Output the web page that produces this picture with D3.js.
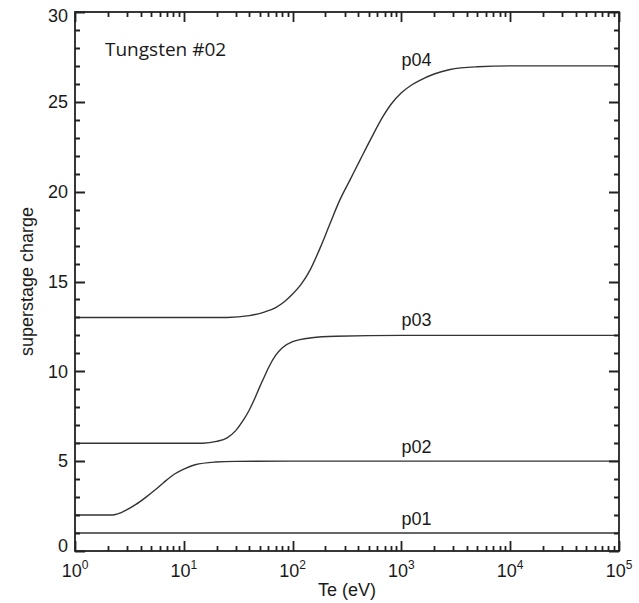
<!DOCTYPE html>
<html>
<head>
<meta charset="utf-8">
<script src="https://cdn.jsdelivr.net/npm/d3@7"></script>
<style>
  html, body { margin: 0; padding: 0; background: #fff; }
  svg { display: block; }
  text { font-family: "Liberation Sans", Arial, sans-serif; fill: #1a1a1a; }
</style>
</head>
<body>
<svg id="chart" width="639" height="603"></svg>
<script>
// Electron temperature grid (eV) and mean superstage charge for each superstage
const seriesNames = ["p01", "p02", "p03", "p04"];

const teP01 = [1, 1e5];
const zP01  = [1, 1];

const teP02 = [1, 2.2, 2.5, 3.0, 3.6, 4.5, 5.5, 6.5, 8.3, 10, 12.7, 19.4, 30, 100, 1e5];
const zP02  = [2, 2.0, 2.08, 2.3, 2.58, 3.0, 3.42, 3.8, 4.3, 4.56, 4.8, 4.95, 4.99, 5.0, 5.0];

const teP03 = [1, 15, 20, 25, 30, 35, 40, 45, 50, 55, 60, 70, 80, 100, 150, 250, 1000, 1e5];
const zP03  = [6, 6.0, 6.1, 6.3, 6.7, 7.25, 7.85, 8.5, 9.15, 9.7, 10.2, 10.9, 11.3, 11.65, 11.87, 11.95, 12.0, 12.0];

const teP04 = [1, 25, 40, 55, 70, 85, 100, 120, 145, 180, 220, 270, 340, 420, 520, 680, 800, 1000, 1250, 1480, 2000, 2800, 5000, 1e4, 1e5];
const zP04  = [13, 13.0, 13.1, 13.3, 13.55, 13.9, 14.3, 14.85, 15.65, 16.9, 18.2, 19.5, 20.7, 21.8, 22.9, 24.2, 24.85, 25.5, 25.95, 26.2, 26.55, 26.8, 26.95, 27.0, 27.0];

// Annotation anchors: labels sit at Te = 1 keV, at these charge levels
const labelTe = 1000;
const labelLevels = [1.45, 5.45, 12.5, 27.0];

const xDecades = [1, 10, 100, 1000, 1e4, 1e5];
const yTicks = [0, 5, 10, 15, 20, 25, 30];

const titleText = "Tungsten #02";
const xTitle = "Te (eV)";
const yTitle = "superstage charge";

const seriesTe = [teP01, teP02, teP03, teP04];
const seriesZ = [zP01, zP02, zP03, zP04];

const svg = d3.select("#chart");
const plotLeft = 75, plotRight = 619, plotTop = 12, plotBottom = 551;

const x = d3.scaleLog().domain([1, 1e5]).range([plotLeft, plotRight]);
const y = d3.scaleLinear().domain([0, 30]).range([plotBottom, plotTop]);

const axisColor = "#222";

// Minor ticks on the log axis: 2..9 within every decade
const minorX = [];
for (let d = 0; d < 5; d++) {
  for (let m = 2; m <= 9; m++) minorX.push(m * Math.pow(10, d));
}
const minorY = d3.range(0, 31, 1).filter(v => v % 5 !== 0);

const g = svg.append("g");

// Curves
const line = d3.line()
  .x(d => x(d[0]))
  .y(d => y(d[1]))
  .curve(d3.curveMonotoneX);

seriesNames.forEach((name, i) => {
  const pts = seriesTe[i].map((t, j) => [t, seriesZ[i][j]]);
  g.append("path")
    .datum(pts)
    .attr("d", line)
    .attr("fill", "none")
    .attr("stroke", "#333")
    .attr("stroke-width", 1.4);
  g.append("text")
    .attr("x", x(labelTe))
    .attr("y", y(labelLevels[i]))
    .attr("font-size", 18)
    .text(name);
});

// Inward tick marks on all four sides, built as one path
const xTickSet = xDecades.map(v => ({ v, len: 10 }))
  .concat(minorX.map(v => ({ v, len: 5 })));
const yTickSet = yTicks.map(v => ({ v, len: 10 }))
  .concat(minorY.map(v => ({ v, len: 5 })));

let tickD = "";
xTickSet.forEach(d => {
  const px = (Math.round(x(d.v)) + 0.5).toFixed(1);
  tickD += `M${px},${plotBottom}V${plotBottom - d.len}`;
  tickD += `M${px},${plotTop}V${plotTop + d.len}`;
});
yTickSet.forEach(d => {
  const py = (Math.round(y(d.v)) + 0.5).toFixed(1);
  tickD += `M${plotLeft},${py}H${plotLeft + d.len}`;
  tickD += `M${plotRight},${py}H${plotRight - d.len}`;
});
g.append("path")
  .attr("d", tickD)
  .attr("fill", "none")
  .style("stroke", axisColor)
  .style("stroke-width", "1.8px");

// Frame
g.append("rect")
  .attr("x", plotLeft).attr("y", plotTop)
  .attr("width", plotRight - plotLeft).attr("height", plotBottom - plotTop)
  .attr("fill", "none")
  .attr("stroke", axisColor)
  .attr("stroke-width", 1.8);

// Y tick labels (end ones nudged inside the frame)
g.selectAll(".ylab")
  .data(yTicks)
  .join("text")
  .attr("class", "ylab")
  .attr("x", plotLeft - 7)
  .attr("y", d => y(d) + (d === 30 ? 4 : d === 0 ? -5 : 0))
  .attr("dy", "0.35em")
  .attr("text-anchor", "end")
  .attr("font-size", 18)
  .text(d => d);

// X tick labels as powers of ten
const xl = g.selectAll(".xlab")
  .data(xDecades)
  .join("text")
  .attr("class", "xlab")
  .attr("x", d => x(d))
  .attr("y", 577)
  .attr("text-anchor", "middle")
  .attr("font-size", 18);
xl.append("tspan").text("10");
xl.append("tspan")
  .attr("dy", -8)
  .attr("font-size", 12)
  .text(d => Math.round(Math.log10(d)));

// Titles
g.append("text")
  .attr("x", (plotLeft + plotRight) / 2)
  .attr("y", 596)
  .attr("text-anchor", "middle")
  .attr("font-size", 18)
  .text(xTitle);

g.append("text")
  .attr("transform", `translate(33,${(plotTop + plotBottom) / 2}) rotate(-90)`)
  .attr("text-anchor", "middle")
  .attr("font-size", 18)
  .text(yTitle);

g.append("text")
  .attr("x", 105)
  .attr("y", 55.5)
  .attr("font-size", 19)
  .style("font-family", "'Open Sans', sans-serif")
  .text(titleText);
</script>
</body>
</html>
